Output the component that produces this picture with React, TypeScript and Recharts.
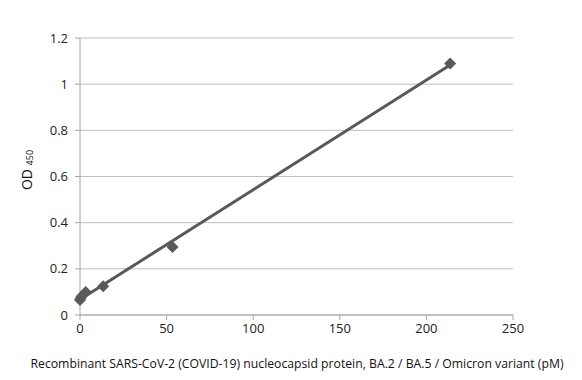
import React from 'react';
import { ScatterChart, Scatter, XAxis, YAxis, CartesianGrid } from 'recharts';

// concentration (pM) and OD450 readings
const concentration = [0, 0.21, 0.83, 3.3, 13.4, 53.4, 213.7];
const od450 = [0.065, 0.07, 0.08, 0.1, 0.125, 0.295, 1.09];
const xTicks = [0, 50, 100, 150, 200, 250];
const yTicks = [0, 0.2, 0.4, 0.6, 0.8, 1, 1.2];

const points = concentration.map((x, i) => ({ x, y: od450[i] }));

// linear trendline (least squares), like the spreadsheet did
const n = points.length;
const mx = concentration.reduce((a, b) => a + b, 0) / n;
const my = od450.reduce((a, b) => a + b, 0) / n;
let sxy = 0;
let sxx = 0;
points.forEach((p) => {
  sxy += (p.x - mx) * (p.y - my);
  sxx += (p.x - mx) * (p.x - mx);
});
const slope = sxy / sxx;
const intercept = my - slope * mx;
const xMin = Math.min(...concentration);
const xMax = Math.max(...concentration);
const trend = [
  { x: xMin, y: intercept + slope * xMin },
  { x: xMax, y: intercept + slope * xMax },
];

const FONT = '"Open Sans", "DejaVu Sans", sans-serif';
const DARK = '#595959';

const Diamond = (props: any) => {
  const { cx, cy } = props;
  const r = 6;
  return (
    <polygon
      points={`${cx},${cy - r} ${cx + r},${cy} ${cx},${cy + r} ${cx - r},${cy}`}
      fill={DARK}
    />
  );
};

const NoShape = () => <g />;

export default function App() {
  return (
    <div style={{ position: 'absolute', left: 0, top: 0, width: 582, height: 380, background: '#fff' }}>
      <ScatterChart
        width={582}
        height={380}
        margin={{ top: 38, right: 69, left: 0, bottom: 0 }}
        style={{ fontFamily: FONT }}
      >
        <CartesianGrid horizontal vertical={false} stroke="#bfbfbf" />
        <XAxis
          type="number"
          dataKey="x"
          domain={[0, 250]}
          ticks={xTicks}
          height={65}
          stroke="#a6a6a6"
          tickSize={5}
          tickMargin={4}
          tick={{ fill: '#222', fontSize: 13, fontFamily: FONT }}
          label={(p: any) => (
            <text
              x={297}
              y={368}
              textAnchor="middle"
              fontSize={12}
              fill="#111"
              fontFamily={FONT}
              textLength={533}
              lengthAdjust="spacingAndGlyphs"
            >
              Recombinant SARS-CoV-2  (COVID-19) nucleocapsid protein, BA.2 / BA.5  / Omicron variant (pM)
            </text>
          )}
        />
        <YAxis
          type="number"
          dataKey="y"
          domain={[0, 1.2]}
          ticks={yTicks}
          width={80}
          stroke="#a6a6a6"
          tickSize={5}
          tickMargin={7}
          tick={{ fill: '#222', fontSize: 13, fontFamily: FONT }}
          label={(p: any) => (
            <text
              transform="translate(32,170) rotate(-90)"
              textAnchor="middle"
              fontSize={14}
              fill="#111"
              fontFamily={FONT}
            >
              OD <tspan fontSize={9} dy={1}>450</tspan>
            </text>
          )}
        />
        <Scatter
          data={trend}
          line={{ stroke: DARK, strokeWidth: 3 }}
          shape={NoShape}
          isAnimationActive={false}
        />
        <Scatter data={points} shape={Diamond} isAnimationActive={false} />
      </ScatterChart>
    </div>
  );
}
